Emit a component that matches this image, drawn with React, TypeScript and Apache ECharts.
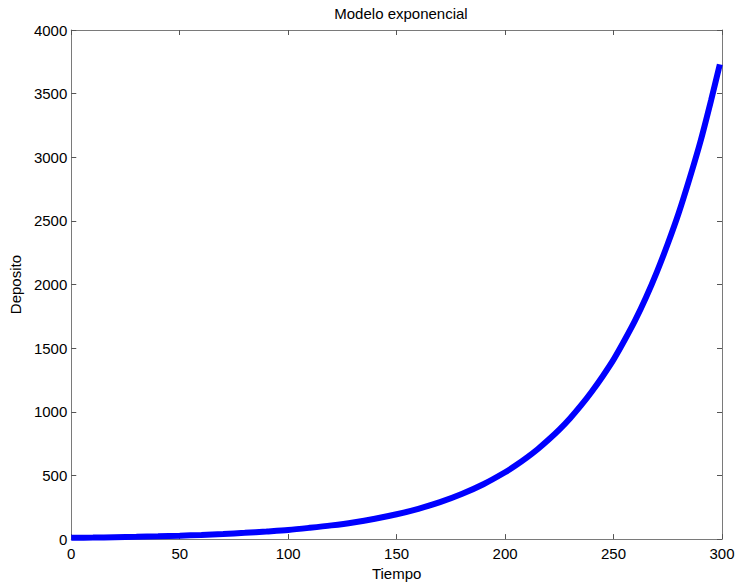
import React, { useEffect, useRef } from "react";
import * as echarts from "echarts";

const title = "Modelo exponencial";
const xName = "Tiempo";
const yName = "Deposito";

const tiempo = [
  0, 10, 20, 30, 40, 50, 60, 70, 80, 90, 100, 110, 120, 130, 140, 150, 160, 170, 180, 190,
  200, 205, 210, 215, 220, 225, 230, 235, 240, 245, 250, 255, 260, 265, 270, 275, 280, 285,
  290, 295, 299,
];
const deposito = [
  10, 12, 15, 18, 22, 27, 33, 40, 49, 60, 72, 89, 108, 131, 160, 195, 238, 290, 354, 431,
  525, 580, 640, 706, 780, 860, 950, 1050, 1160, 1280, 1410, 1560, 1720, 1900, 2100, 2320,
  2560, 2830, 3120, 3450, 3730,
];

const xTicks = { min: 0, max: 300, interval: 50 };
const yTicks = { min: 0, max: 4000, interval: 500 };

export default function App() {
  const ref = useRef<HTMLDivElement>(null);
  useEffect(() => {
    if (!ref.current) return;
    const chart = echarts.init(ref.current, null, { renderer: "svg" });
    const font = "Liberation Sans, Arial, Helvetica, sans-serif";
    const axisLineStyle = { color: "#7a7a7a", width: 1 };
    const tickStyle = { color: "#555555", width: 1 };
    const plain = (v: number) => String(v);
    chart.setOption({
      animation: false,
      backgroundColor: "#ffffff",
      title: {
        text: title,
        left: 396,
        textAlign: "center",
        top: 1,
        textStyle: { fontFamily: font, fontSize: 15, fontWeight: "normal", color: "#000" },
      },
      grid: { left: 70, right: 17, top: 30, bottom: 45, containLabel: false },
      xAxis: [
        {
          type: "value",
          position: "bottom",
          ...xTicks,
          name: xName,
          nameLocation: "middle",
          nameGap: 25,
          nameTextStyle: { fontFamily: font, fontSize: 15, color: "#000" },
          axisLine: { show: true, onZero: false, lineStyle: axisLineStyle },
          axisTick: { show: true, inside: true, length: 5, lineStyle: tickStyle },
          axisLabel: { fontFamily: font, fontSize: 15, color: "#000", margin: 7, formatter: plain },
          splitLine: { show: false },
        },
        {
          type: "value",
          position: "top",
          ...xTicks,
          axisLine: { show: true, onZero: false, lineStyle: axisLineStyle },
          axisTick: { show: true, inside: true, length: 5, lineStyle: tickStyle },
          axisLabel: { show: false },
          splitLine: { show: false },
        },
      ],
      yAxis: [
        {
          type: "value",
          position: "left",
          ...yTicks,
          name: yName,
          nameLocation: "middle",
          nameGap: 45,
          nameTextStyle: { fontFamily: font, fontSize: 15, color: "#000" },
          axisLine: { show: true, onZero: false, lineStyle: axisLineStyle },
          axisTick: { show: true, inside: true, length: 5, lineStyle: tickStyle },
          axisLabel: { fontFamily: font, fontSize: 15, color: "#000", margin: 4, formatter: plain },
          splitLine: { show: false },
        },
        {
          type: "value",
          position: "right",
          ...yTicks,
          axisLine: { show: true, onZero: false, lineStyle: axisLineStyle },
          axisTick: { show: true, inside: true, length: 5, lineStyle: tickStyle },
          axisLabel: { show: false },
          splitLine: { show: false },
        },
      ],
      series: [
        {
          type: "line",
          xAxisIndex: 0,
          yAxisIndex: 0,
          data: tiempo.map((t, i) => [t, deposito[i]]),
          smooth: 0.3,
          showSymbol: false,
          lineStyle: { color: "#0000ff", width: 6, cap: "butt" },
        },
      ],
    });
    return () => chart.dispose();
  }, []);
  return <div ref={ref} style={{ width: 739, height: 586, position: "absolute", left: 0, top: 0 }} />;
}
